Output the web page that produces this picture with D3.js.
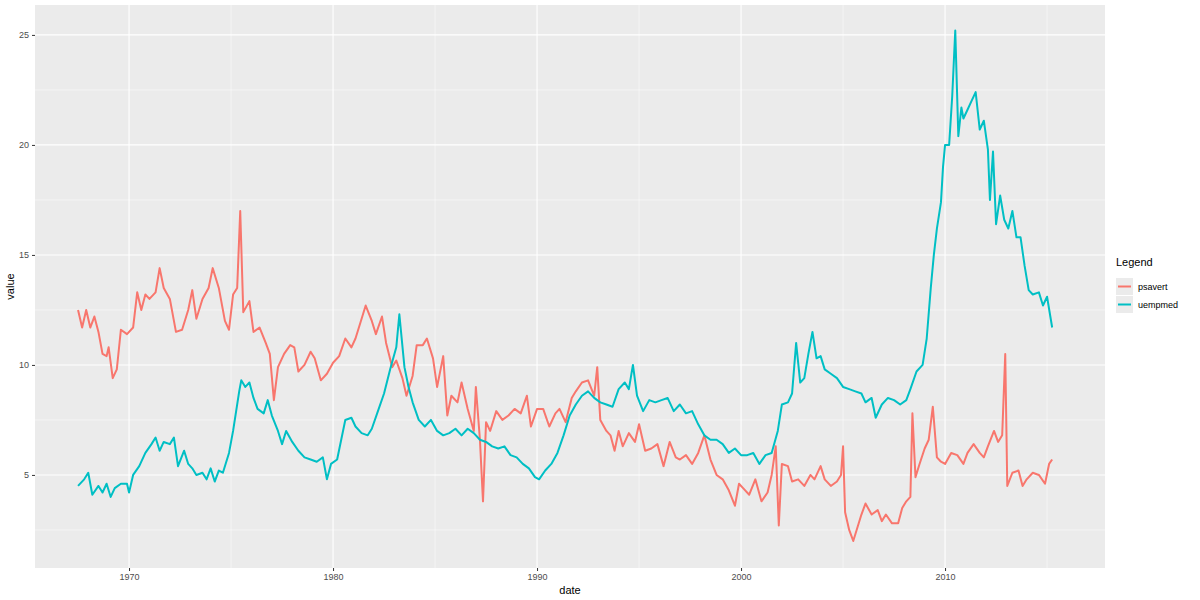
<!DOCTYPE html>
<html><head><meta charset="utf-8">
<script src="https://cdn.jsdelivr.net/npm/d3@7"></script>
<style>body{margin:0;background:#fff;font-family:"Liberation Sans",Arial,sans-serif}</style>
</head><body><svg id="chart" width="1200" height="600"></svg>
<script>
// economics data (decimal year, value)
const psavertDates = [1967.5,1967.7,1967.9,1968.1,1968.3,1968.5,1968.7,1968.9,1969.0,1969.2,1969.4,1969.6,1969.9,1970.2,1970.4,1970.6,1970.8,1971.0,1971.3,1971.5,1971.7,1972.0,1972.3,1972.6,1972.9,1973.1,1973.3,1973.6,1973.9,1974.1,1974.4,1974.7,1974.9,1975.1,1975.3,1975.45,1975.6,1975.9,1976.1,1976.4,1976.7,1976.9,1977.1,1977.3,1977.6,1977.9,1978.1,1978.3,1978.6,1978.9,1979.1,1979.4,1979.7,1980.0,1980.3,1980.6,1980.9,1981.1,1981.4,1981.6,1981.9,1982.1,1982.4,1982.6,1982.9,1983.1,1983.4,1983.6,1983.9,1984.1,1984.4,1984.6,1984.9,1985.1,1985.4,1985.6,1985.8,1986.1,1986.3,1986.6,1986.9,1987.0,1987.2,1987.35,1987.5,1987.7,1988.0,1988.3,1988.6,1988.9,1989.2,1989.5,1989.7,1990.0,1990.3,1990.6,1990.9,1991.1,1991.4,1991.7,1991.9,1992.2,1992.5,1992.8,1992.95,1993.1,1993.4,1993.6,1993.8,1994.0,1994.2,1994.5,1994.8,1995.0,1995.3,1995.6,1995.9,1996.2,1996.5,1996.8,1997.0,1997.3,1997.6,1997.9,1998.2,1998.5,1998.8,1999.1,1999.4,1999.7,1999.9,2000.1,2000.4,2000.7,2001.0,2001.3,2001.5,2001.7,2001.85,2002.0,2002.3,2002.5,2002.8,2003.1,2003.4,2003.6,2003.9,2004.1,2004.4,2004.7,2004.9,2005.0,2005.1,2005.3,2005.5,2005.7,2005.9,2006.1,2006.4,2006.7,2006.9,2007.1,2007.4,2007.7,2007.9,2008.1,2008.3,2008.4,2008.55,2008.75,2009.0,2009.2,2009.4,2009.6,2009.8,2010.0,2010.3,2010.6,2010.9,2011.1,2011.4,2011.7,2011.9,2012.1,2012.4,2012.6,2012.8,2012.95,2013.05,2013.3,2013.6,2013.8,2014.0,2014.3,2014.6,2014.9,2015.1,2015.25];
const psavertValues = [12.5,11.7,12.5,11.7,12.2,11.5,10.5,10.4,10.8,9.4,9.8,11.6,11.4,11.7,13.3,12.5,13.2,13.0,13.3,14.4,13.5,13.0,11.5,11.6,12.5,13.4,12.1,13.0,13.5,14.4,13.5,12.0,11.6,13.2,13.5,17.0,12.4,12.9,11.5,11.7,11.0,10.5,8.4,9.9,10.5,10.9,10.8,9.7,10.0,10.6,10.3,9.3,9.6,10.1,10.4,11.2,10.8,11.2,12.1,12.7,12.0,11.4,12.2,11.0,9.9,10.2,9.4,8.6,9.5,10.9,10.9,11.2,10.3,9.0,10.4,7.7,8.6,8.3,9.2,8.0,7.0,9.0,6.6,3.8,7.4,7.0,7.9,7.5,7.7,8.0,7.8,8.6,7.2,8.0,8.0,7.2,7.8,8.0,7.4,8.5,8.8,9.2,9.3,8.6,9.9,7.5,7.0,6.8,6.1,7.0,6.3,6.9,6.5,7.3,6.1,6.2,6.4,5.4,6.5,5.8,5.7,5.9,5.5,6.0,6.8,5.7,5.0,4.8,4.3,3.6,4.6,4.4,4.1,4.8,3.8,4.2,5.0,6.3,2.7,5.5,5.4,4.7,4.8,4.5,5.0,4.8,5.4,4.8,4.5,4.7,5.0,6.3,3.3,2.5,2.0,2.6,3.2,3.7,3.2,3.4,2.9,3.2,2.8,2.8,3.5,3.8,4.0,7.8,4.9,5.5,6.2,6.6,8.1,5.8,5.6,5.5,6.0,5.9,5.5,6.0,6.4,6.0,5.8,6.3,7.0,6.5,6.8,10.5,4.5,5.1,5.2,4.5,4.8,5.1,5.0,4.6,5.5,5.7];
const uempmedDates = [1967.5,1967.8,1968.0,1968.2,1968.5,1968.7,1968.9,1969.1,1969.3,1969.6,1969.9,1970.0,1970.2,1970.5,1970.8,1971.1,1971.3,1971.5,1971.7,1972.0,1972.2,1972.4,1972.7,1972.9,1973.1,1973.3,1973.6,1973.8,1974.0,1974.2,1974.4,1974.6,1974.9,1975.1,1975.4,1975.5,1975.7,1975.9,1976.1,1976.3,1976.6,1976.8,1977.0,1977.3,1977.5,1977.7,1978.0,1978.3,1978.6,1978.9,1979.2,1979.5,1979.7,1979.9,1980.2,1980.4,1980.6,1980.9,1981.1,1981.4,1981.7,1981.9,1982.2,1982.5,1982.8,1983.1,1983.25,1983.5,1983.7,1983.9,1984.2,1984.5,1984.8,1985.1,1985.4,1985.7,1986.0,1986.3,1986.6,1986.9,1987.2,1987.5,1987.8,1988.1,1988.4,1988.7,1989.0,1989.3,1989.6,1989.9,1990.1,1990.4,1990.7,1991.0,1991.3,1991.6,1991.9,1992.2,1992.5,1992.8,1993.1,1993.4,1993.7,1994.0,1994.3,1994.5,1994.7,1994.9,1995.2,1995.5,1995.8,1996.1,1996.4,1996.7,1997.0,1997.3,1997.6,1997.9,1998.2,1998.5,1998.8,1999.1,1999.4,1999.7,2000.0,2000.3,2000.6,2000.9,2001.2,2001.5,2001.8,2002.0,2002.3,2002.5,2002.7,2002.9,2003.1,2003.3,2003.5,2003.7,2003.9,2004.1,2004.4,2004.7,2005.0,2005.3,2005.6,2005.9,2006.1,2006.4,2006.6,2006.9,2007.2,2007.5,2007.8,2008.1,2008.3,2008.6,2008.9,2009.1,2009.3,2009.45,2009.6,2009.8,2009.9,2010.0,2010.2,2010.35,2010.5,2010.65,2010.8,2010.9,2011.1,2011.3,2011.5,2011.7,2011.9,2012.1,2012.2,2012.35,2012.5,2012.7,2012.9,2013.1,2013.3,2013.5,2013.7,2013.9,2014.1,2014.3,2014.6,2014.8,2015.0,2015.25];
const uempmedValues = [4.5,4.8,5.1,4.1,4.5,4.2,4.6,4.0,4.4,4.6,4.6,4.2,5.0,5.4,6.0,6.4,6.7,6.1,6.5,6.4,6.7,5.4,6.1,5.5,5.3,5.0,5.1,4.8,5.3,4.7,5.2,5.1,6.0,7.0,8.8,9.3,9.0,9.2,8.5,8.0,7.8,8.4,7.7,7.0,6.4,7.0,6.5,6.1,5.8,5.7,5.6,5.8,4.8,5.5,5.7,6.6,7.5,7.6,7.2,6.9,6.8,7.1,7.9,8.7,9.8,10.8,12.3,9.9,9.0,8.3,7.5,7.2,7.5,7.0,6.8,6.9,7.1,6.8,7.1,6.9,6.6,6.5,6.3,6.2,6.3,5.9,5.8,5.5,5.3,4.9,4.8,5.2,5.5,6.0,6.8,7.7,8.2,8.6,8.8,8.5,8.3,8.2,8.1,8.9,9.2,8.9,10.0,8.6,7.9,8.4,8.3,8.4,8.5,7.9,8.2,7.8,7.9,7.3,6.8,6.6,6.6,6.4,6.0,6.2,5.9,5.9,6.0,5.5,5.9,6.0,7.0,8.2,8.3,8.7,11.0,9.2,9.4,10.5,11.5,10.3,10.4,9.8,9.6,9.4,9.0,8.9,8.8,8.7,8.3,8.5,7.6,8.2,8.5,8.4,8.2,8.4,8.9,9.7,10.0,11.2,13.5,15.0,16.2,17.4,19.0,20.0,20.0,22.2,25.2,20.4,21.7,21.2,21.6,22.0,22.4,20.7,21.1,19.8,17.5,19.7,16.4,17.7,16.6,16.2,17.0,15.8,15.8,14.5,13.4,13.2,13.3,12.7,13.1,11.7];
const seriesNames = ["psavert", "uempmed"];
const seriesColors = ["#F8766D", "#00BFC4"];
const xTicks = [1970, 1980, 1990, 2000, 2010];
const yTicks = [5, 10, 15, 20, 25];

const series = [
  {name: seriesNames[0], color: seriesColors[0], pts: psavertDates.map((d, i) => [d, psavertValues[i]])},
  {name: seriesNames[1], color: seriesColors[1], pts: uempmedDates.map((d, i) => [d, uempmedValues[i]])}
];

const svg = d3.select("#chart");
const L = 35, R = 1105, T = 5, B = 568;
const x = d3.scaleLinear().domain([1965.39, 2017.84]).range([L, R]);
const y = d3.scaleLinear().domain([0.77, 26.36]).range([B, T]);

svg.append("rect").attr("x", L).attr("y", T).attr("width", R - L).attr("height", B - T).attr("fill", "#EBEBEB");

const xMinor = xTicks.map(t => t - 5).concat([xTicks[xTicks.length - 1] + 5]);
const yMinor = yTicks.map(t => t - 2.5);
const g = svg.append("g");
g.selectAll(".xm").data(xMinor).enter().append("line")
  .attr("x1", d => x(d)).attr("x2", d => x(d)).attr("y1", T).attr("y2", B)
  .attr("stroke", "#fff").attr("stroke-width", 0.5);
g.selectAll(".ym").data(yMinor).enter().append("line")
  .attr("y1", d => y(d)).attr("y2", d => y(d)).attr("x1", L).attr("x2", R)
  .attr("stroke", "#fff").attr("stroke-width", 0.5);
g.selectAll(".xM").data(xTicks).enter().append("line")
  .attr("x1", d => x(d)).attr("x2", d => x(d)).attr("y1", T).attr("y2", B)
  .attr("stroke", "#fff").attr("stroke-width", 1.1);
g.selectAll(".yM").data(yTicks).enter().append("line")
  .attr("y1", d => y(d)).attr("y2", d => y(d)).attr("x1", L).attr("x2", R)
  .attr("stroke", "#fff").attr("stroke-width", 1.1);

const line = d3.line().x(d => x(d[0])).y(d => y(d[1]));
svg.selectAll(".series").data(series).enter().append("path")
  .attr("d", d => line(d.pts)).attr("fill", "none")
  .attr("stroke", d => d.color).attr("stroke-width", 2).attr("stroke-linejoin", "round");

const xAxis = svg.append("g").attr("transform", `translate(0,${B})`)
  .call(d3.axisBottom(x).tickValues(xTicks).tickFormat(d3.format("d")).tickSize(3).tickPadding(3));
const yAxis = svg.append("g").attr("transform", `translate(${L},0)`)
  .call(d3.axisLeft(y).tickValues(yTicks).tickSize(3).tickPadding(3));
[xAxis, yAxis].forEach(a => {
  a.select(".domain").remove();
  a.selectAll("line").attr("stroke", "#333");
  a.selectAll("text").attr("fill", "#4D4D4D").style("font-size", "9px").style("font-family", "Liberation Sans, Arial");
});

svg.append("text").attr("x", (L + R) / 2).attr("y", 594).attr("text-anchor", "middle")
  .style("font-size", "11px").text("date");
svg.append("text").attr("transform", `translate(14,${(T + B) / 2}) rotate(-90)`).attr("text-anchor", "middle")
  .style("font-size", "11px").text("value");

const leg = svg.append("g").attr("transform", "translate(1116,0)");
leg.append("text").attr("x", 0).attr("y", 266).style("font-size", "11px").text("Legend");
const items = leg.selectAll(".it").data(series).enter().append("g")
  .attr("transform", (d, i) => `translate(0,${278 + i * 18})`);
items.append("rect").attr("width", 17).attr("height", 17).attr("fill", "#EBEBEB");
items.append("line").attr("x1", 2).attr("x2", 15).attr("y1", 8.5).attr("y2", 8.5)
  .attr("stroke", d => d.color).attr("stroke-width", 2);
items.append("text").attr("x", 22).attr("y", 12).style("font-size", "9px").text(d => d.name);
</script></body></html>
